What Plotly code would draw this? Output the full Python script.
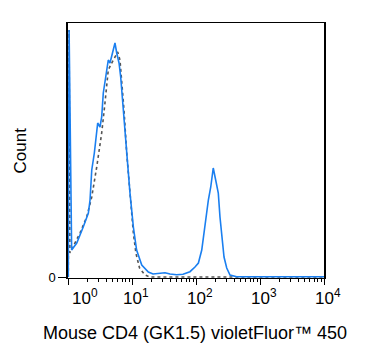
import plotly.graph_objects as go

# CD4 violetFluor 450 stained (blue, solid)
stained_x = [1.01, 1.04, 1.14, 1.37, 1.73, 2.08, 2.21, 2.35, 2.58, 2.81, 2.91, 3.16, 3.36, 3.56,
             3.92, 4.26, 4.53, 4.99, 5.42, 5.77, 6.27, 6.66, 7.31, 8.26, 9.30, 10.5, 11.8, 14.2,
             18.0, 21.3, 27.4, 32.8, 39.2, 49.9, 62.7, 80.5, 96.4, 109, 123, 133, 143, 156, 170,
             186, 203, 223, 237, 252, 274, 302, 340, 432, 9550, 10000]
stained_y = [0, 247, 27, 34, 50, 64, 77, 107, 124, 147, 154, 150, 160, 184,
             204, 217, 214, 224, 234, 224, 214, 200, 167, 124, 84, 50, 27, 12,
             5, 3, 3.7, 4.3, 3, 2.3, 2.7, 5.3, 10, 14, 27, 44, 64, 77, 90,
             109, 97, 84, 60, 40, 20, 9, 2, 0.3, 0.3, 0.3]

# Isotype / unstained control (gray, dotted)
control_x = [1.01, 1.04, 1.07, 1.54, 1.96, 2.35, 2.81, 3.36, 3.78, 4.26, 4.82, 5.42, 5.98, 6.49,
             6.88, 7.50, 8.26, 9.30, 10.5, 11.5, 13.1, 15.9, 19.1, 10000]
control_y = [0, 247, 24, 44, 60, 80, 110, 144, 174, 207, 214, 220, 225, 217,
             197, 167, 124, 84, 44, 24, 9, 2, 0, 0]

major_exp = [0, 1, 2, 3, 4]
major_vals = [1, 10, 100, 1000, 10000]
minor_vals = [m * 10 ** e for e in range(4) for m in range(2, 10)]
x_title = "Mouse CD4 (GK1.5) violetFluor™ 450"
y_title = "Count"

FONT = "Liberation Sans, Arial, sans-serif"

fig = go.Figure()
fig.add_trace(go.Scatter(x=control_x, y=control_y, mode="lines",
                         line=dict(color="#555555", width=1.6, dash="dot"),
                         showlegend=False, hoverinfo="skip"))
fig.add_trace(go.Scatter(x=stained_x, y=stained_y, mode="lines",
                         line=dict(color="#1a7ff0", width=1.6),
                         showlegend=False, hoverinfo="skip"))

fig.update_layout(
    width=367, height=351,
    margin=dict(l=60, r=51, t=15, b=81),
    plot_bgcolor="white", paper_bgcolor="white",
    font=dict(family=FONT, color="black"),
    xaxis=dict(type="log", range=[0, 4], showgrid=False, zeroline=False,
               automargin=False,
               showline=True, linecolor="black", linewidth=1.2, mirror=True,
               tickvals=major_vals, ticks="outside", ticklen=6, tickcolor="black",
               showticklabels=False,
               minor=dict(tickvals=minor_vals, ticks="outside", ticklen=3,
                          tickcolor="black", showgrid=False)),
    yaxis=dict(range=[-1, 254], showgrid=False, zeroline=False,
               automargin=False,
               showline=True, linecolor="black", linewidth=1.5, mirror=True,
               tickvals=[0], ticktext=["0"], ticks="outside", ticklen=8,
               tickcolor="black", tickfont=dict(size=13, family=FONT)),
)

for e, v in zip(major_exp, major_vals):
    fig.add_annotation(x=e, y=0, xref="x", yref="paper",
                       text="10<sup>%d</sup>" % e, showarrow=False,
                       xanchor="center", yanchor="top", yshift=-6,
                       xshift=17 if e == 0 else 4,
                       font=dict(size=17, family=FONT, color="black"))

fig.add_annotation(x=0.5, y=0, xref="paper", yref="paper", text=x_title,
                   showarrow=False, xanchor="center", yanchor="middle",
                   xshift=-1, yshift=-55,
                   font=dict(size=18, family=FONT, color="black"))
fig.add_annotation(x=0, y=0.5, xref="paper", yref="paper", text=y_title,
                   showarrow=False, xanchor="center", yanchor="middle",
                   textangle=-90, xshift=-48, yshift=0,
                   font=dict(size=17, family=FONT, color="black"))

fig.write_html("out.html")
